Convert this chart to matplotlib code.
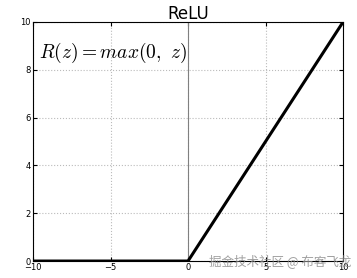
import numpy as np
import matplotlib
matplotlib.use("Agg")
import matplotlib.pyplot as plt

plt.rcParams['mathtext.fontset'] = 'cm'

# data
z = [-10, 0, 10]
relu = [0, 0, 10]
xticks = [-10, -5, 0, 5, 10]
yticks = [0, 2, 4, 6, 8, 10]

fig = plt.figure(figsize=(3.57, 2.78), dpi=100)
ax = fig.add_axes([0.0924, 0.061, 0.8686, 0.86])

ax.plot(z, relu, color='black', linewidth=2.2, zorder=3)
ax.axvline(0, color='gray', linewidth=0.8, zorder=2)
ax.set_xlim(-10, 10)
ax.set_ylim(0, 10)
ax.set_xticks(xticks)
ax.set_yticks(yticks)
ax.tick_params(direction='in', labelsize=6, length=3, pad=1.5, top=True, right=True)
ax.grid(True, linestyle=':', color='#bbbbbb', linewidth=0.8)
for s in ax.spines.values():
    s.set_linewidth(0.8)

ax.set_title('ReLU', fontsize=12, pad=2)
ax.text(-9.6, 8.7, r'$R(z)=max(0,\ z)$', fontsize=14, va='center', ha='left')

# watermark
fig.text(0.985, 0.057, '掘金技术社区 @ 布客飞龙', fontsize=9, color='#888888', alpha=0.8,
         ha='right', va='center', family=['Noto Sans CJK SC', 'DejaVu Sans'])

fig.savefig('out.png', dpi=100)
